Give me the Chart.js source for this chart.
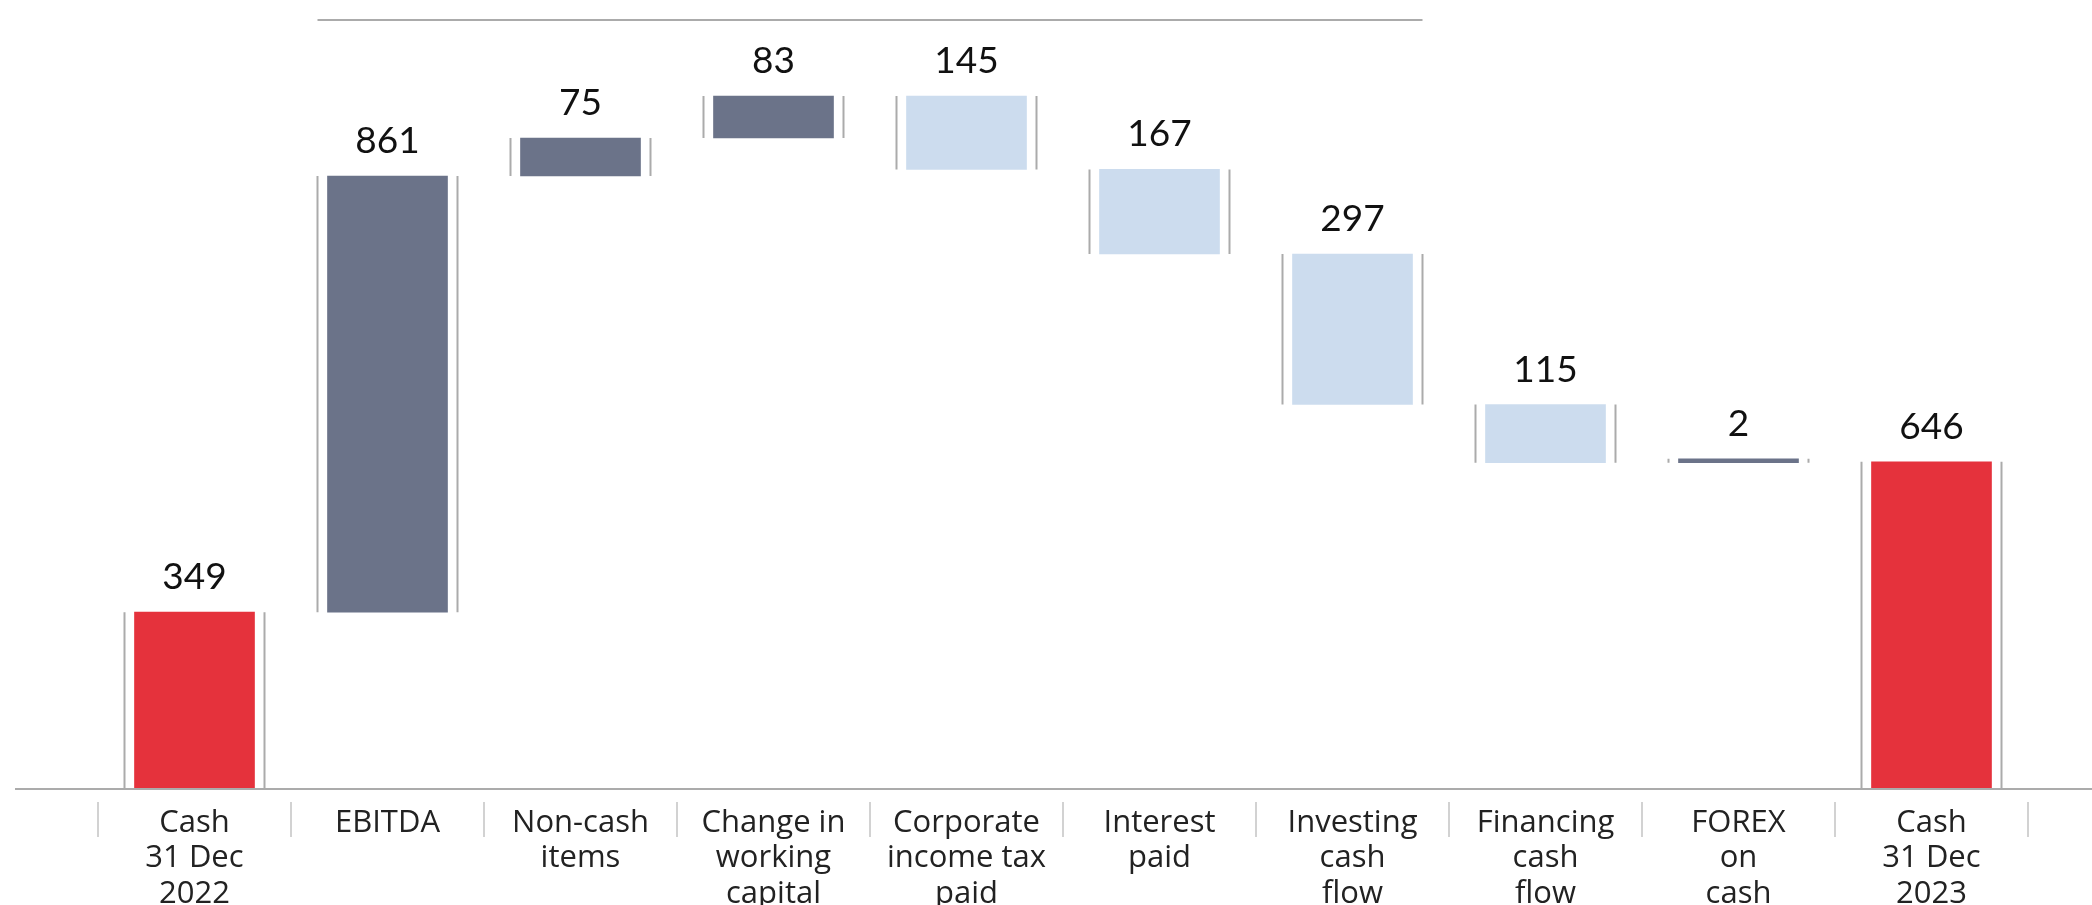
<!DOCTYPE html>
<html>
<head>
<meta charset="utf-8">
<script src="https://cdn.jsdelivr.net/npm/chart.js@4/dist/chart.umd.min.js"></script>
<style>
  html, body { margin: 0; padding: 0; background: #fff; overflow: hidden; }
  #wrap { position: relative; width: 2092px; height: 905px; }
</style>
</head>
<body>
<div id="wrap"><canvas id="cashFlow"></canvas></div>
<script>
// Cash flow bridge 2022 -> 2023
const categories = [
  ['Cash', '31 Dec', '2022'],
  ['EBITDA'],
  ['Non-cash', 'items'],
  ['Change in', 'working', 'capital'],
  ['Corporate', 'income tax', 'paid'],
  ['Interest', 'paid'],
  ['Investing', 'cash', 'flow'],
  ['Financing', 'cash', 'flow'],
  ['FOREX', 'on', 'cash'],
  ['Cash', '31 Dec', '2023']
];
const amounts = [349, 861, 75, 83, -145, -167, -297, -115, 2, 646];
const isTotal = [true, false, false, false, false, false, false, false, false, true];
const valueLabels = ['349', '861', '75', '83', '145', '167', '297', '115', '2', '646'];

const RED = '#e5323c';
const SLATE = '#6b7389';
const LIGHT = '#ccdcee';
const GREY = '#ababab';

// floating ranges for the waterfall
const ranges = [];
const colors = [];
let running = 0;
amounts.forEach((v, i) => {
  if (isTotal[i]) {
    ranges.push([0, v]);
    running = v;
    colors.push(RED);
  } else {
    ranges.push([running, running + v]);
    running += v;
    colors.push(v > 0 ? SLATE : LIGHT);
  }
});

const decor = {
  id: 'decor',
  afterDatasetsDraw(chart) {
    const { ctx, chartArea } = chart;
    const bars = chart.getDatasetMeta(0).data;
    ctx.save();
    bars.forEach((bar, i) => {
      const { x, y, base, width } = bar.getProps(['x', 'y', 'base', 'width'], true);
      const top = Math.min(y, base);
      const bottom = Math.max(y, base);
      const off = width / 2 + 10;
      // side brackets
      ctx.strokeStyle = GREY;
      ctx.lineWidth = 2;
      ctx.beginPath();
      ctx.moveTo(x - off, top); ctx.lineTo(x - off, bottom);
      ctx.moveTo(x + off, top); ctx.lineTo(x + off, bottom);
      ctx.stroke();
      // value label
      ctx.fillStyle = '#111';
      ctx.font = '37px Lato';
      ctx.textAlign = 'center';
      ctx.textBaseline = 'alphabetic';
      ctx.fillText(valueLabels[i], x, top - 23);
    });

    // baseline across the whole width
    ctx.strokeStyle = GREY;
    ctx.lineWidth = 2;
    ctx.beginPath();
    ctx.moveTo(15, chartArea.bottom);
    ctx.lineTo(chart.width, chartArea.bottom);
    ctx.stroke();

    // category separators
    const xs = chart.scales.x;
    const step = xs.getPixelForValue(1) - xs.getPixelForValue(0);
    ctx.strokeStyle = '#c4c4c4';
    ctx.lineWidth = 1.5;
    ctx.beginPath();
    for (let i = 0; i <= categories.length; i++) {
      const px = xs.getPixelForValue(0) - step / 2 + step * i;
      ctx.moveTo(px, chartArea.bottom + 13);
      ctx.lineTo(px, chartArea.bottom + 48);
    }
    ctx.stroke();

    // top rule over the operating items
    const b1 = bars[1].getProps(['x', 'width'], true);
    const b6 = bars[6].getProps(['x', 'width'], true);
    ctx.strokeStyle = GREY;
    ctx.lineWidth = 2;
    ctx.beginPath();
    ctx.moveTo(b1.x - b1.width / 2 - 10, chartArea.top);
    ctx.lineTo(b6.x + b6.width / 2 + 10, chartArea.top);
    ctx.stroke();
    ctx.restore();
  }
};

new Chart(document.getElementById('cashFlow'), {
  type: 'bar',
  data: {
    labels: categories,
    datasets: [{
      data: ranges,
      backgroundColor: colors,
      borderWidth: 0,
      barThickness: 120,
      minBarLength: 4
    }]
  },
  options: {
    responsive: true,
    maintainAspectRatio: false,
    animation: false,
    layout: { padding: { left: 98, right: 64, top: 20, bottom: 0 } },
    plugins: {
      legend: { display: false },
      tooltip: { enabled: false }
    },
    scales: {
      x: {
        grid: { display: false, drawTicks: false },
        border: { display: false },
        ticks: {
          padding: 16,
          color: '#222',
          maxRotation: 0,
          autoSkip: false,
          font: { family: "'Open Sans'", size: 31, lineHeight: 1.145 }
        },
        afterFit(scale) { scale.height = 116; }
      },
      y: {
        display: false,
        min: 0,
        max: 1518
      }
    }
  },
  plugins: [decor]
});
</script>
</body>
</html>
